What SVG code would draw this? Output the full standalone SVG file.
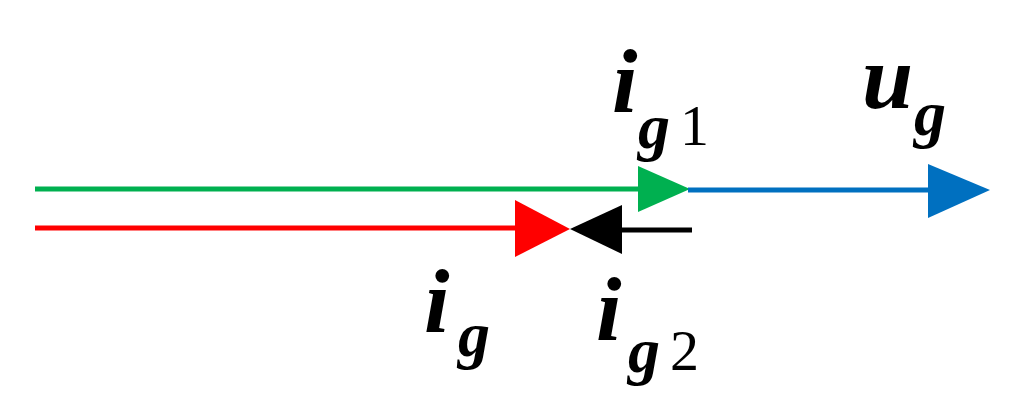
<svg xmlns="http://www.w3.org/2000/svg" width="1024" height="409" viewBox="0 0 1024 409">
<style>
.v{font-family:"Liberation Serif",serif;font-weight:bold;font-style:italic;fill:#000}
.n{font-family:"Liberation Serif",serif;fill:#000}
line{stroke-width:5}
</style>
<rect width="1024" height="409" fill="#fff"/>
<g id="connectors">
<line x1="35" y1="189" x2="650" y2="189" stroke="#00b050"/>
<polygon points="638,166 690,189 638,212" fill="#00b050"/>
<line x1="688" y1="190" x2="940" y2="190" stroke="#0070c0"/>
<polygon points="928,164 990,190 928,218" fill="#0070c0"/>
<line x1="35" y1="228" x2="525" y2="228" stroke="#ff0000"/>
<polygon points="515,200 570,229 515,257" fill="#ff0000"/>
<line x1="692" y1="230" x2="610" y2="230" stroke="#000"/>
<polygon points="622,205 570,229 622,254" fill="#000"/>
</g>
<g id="label-ig1"><text class="v" x="612" y="112" font-size="92">i</text><text class="v" x="638" y="148" font-size="64">g</text><text class="n" x="680" y="145" font-size="58">1</text></g>
<g id="label-ug"><text class="v" x="862" y="108" font-size="92">u</text><text class="v" x="914" y="135" font-size="64">g</text></g>
<g id="label-ig"><text class="v" x="424" y="332" font-size="92">i</text><text class="v" x="458" y="356" font-size="64">g</text></g>
<g id="label-ig2"><text class="v" x="596" y="340" font-size="92">i</text><text class="v" x="628" y="372" font-size="64">g</text><text class="n" x="670" y="370" font-size="58">2</text></g>
</svg>
